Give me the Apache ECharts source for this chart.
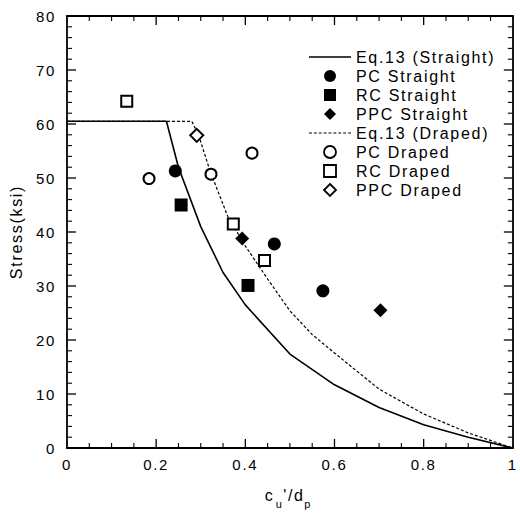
<!DOCTYPE html>
<html><head><meta charset="utf-8">
<script src="https://cdn.jsdelivr.net/npm/echarts@6/dist/echarts.min.js"></script>
<style>html,body{margin:0;padding:0;background:#fff}#c{width:520px;height:514px}#c text{letter-spacing:1.7px}</style>
</head><body><div id="c"></div>
<script>
// Eq.13 curves [c/dp, stress]
const eqStraight = [[0,60.5],[0.223,60.5],[0.25,52],[0.3,41],[0.35,32.5],[0.4,26.5],[0.5,17.4],[0.6,11.7],[0.7,7.5],[0.8,4.3],[0.9,2.0],[1.0,0]];
const eqDraped = [[0,60.5],[0.28,60.5],[0.295,58],[0.32,51.5],[0.36,43],[0.4,37.4],[0.45,31.3],[0.5,25.4],[0.55,21],[0.6,17.6],[0.7,10.9],[0.8,6.3],[0.9,2.8],[1.0,0]];
// test data
const pcStraight = [[0.243,51.3],[0.465,37.8],[0.574,29.1]];
const rcStraight = [[0.256,45.0],[0.406,30.1]];
const ppcStraight = [[0.393,38.8],[0.703,25.5]];
const pcDraped = [[0.184,49.9],[0.323,50.7],[0.415,54.6]];
const rcDraped = [[0.134,64.2],[0.373,41.5],[0.443,34.7]];
const ppcDraped = [[0.291,57.9]];
const seriesNames = ['Eq.13 (Straight)','PC Straight','RC Straight','PPC Straight','Eq.13 (Draped)','PC Draped','RC Draped','PPC Draped'];
// axes: range, major interval, minor interval
const xRange = {min:0, max:1, interval:0.2, minor:0.05};
const yRange = {min:0, max:80, interval:10, minor:2};

const FONT = 'Liberation Sans';
const MAJ = 9, MIN = 5;
const chart = echarts.init(document.getElementById('c'), null, {renderer:'svg'});

// inward tick marks on all four sides of the frame, placed through the axis scales
const tickData = [];
function addTicks(kind, r){
  const n = Math.round((r.max - r.min) / r.minor);
  for (let i = 1; i < n; i++) {
    const v = r.min + i * r.minor;
    const q = v / r.interval;
    tickData.push([kind, v, Math.abs(q - Math.round(q)) < 1e-6 ? 1 : 0]);
  }
}
addTicks(0, xRange); addTicks(1, yRange);
function renderTick(params, api){
  const kind = api.value(0), v = api.value(1), len = api.value(2) ? MAJ : MIN;
  const st = {stroke:'#000', lineWidth: api.value(2) ? 1.3 : 1.1};
  let a, b, s1, s2;
  if (kind === 0) {
    a = api.coord([v, yRange.min]); b = api.coord([v, yRange.max]);
    s1 = {x1:a[0], y1:a[1], x2:a[0], y2:a[1] - len};
    s2 = {x1:b[0], y1:b[1], x2:b[0], y2:b[1] + len};
  } else {
    a = api.coord([xRange.min, v]); b = api.coord([xRange.max, v]);
    s1 = {x1:a[0], y1:a[1], x2:a[0] + len, y2:a[1]};
    s2 = {x1:b[0], y1:b[1], x2:b[0] - len, y2:b[1]};
  }
  return {type:'group', children:[
    {type:'line', shape:s1, style:st}, {type:'line', shape:s2, style:st}]};
}
function mainAxis(range, position, extra){
  return Object.assign({type:'value', position, min:range.min, max:range.max, interval:range.interval,
    axisLine:{show:true, onZero:false, lineStyle:{color:'#000', width:1.8}},
    axisTick:{show:false}, minorTick:{show:false}, splitLine:{show:false}, minorSplitLine:{show:false},
    axisLabel:{show:false}}, extra || {});
}
function scatter(name, data, symbol, size){
  const empty = symbol.startsWith('empty');
  return {name, type:'scatter', data, symbol, symbolSize:size,
    itemStyle:{color:'#000', borderColor:'#000', borderWidth: empty?1.8:0, opacity:1}, z:5};
}
// legend icon paths
let dashPath = 'path://';
for (let x = 0; x < 42; x += 5) dashPath += 'M' + x + ',0h3v1.1h-3z';
const icons = {
  line: 'path://M0,0h42v1.6h-42z',
  dash: dashPath,
  circle: 'path://M6,0A6,6,0,1,1,6,12A6,6,0,1,1,6,0Z',
  rect: 'path://M0,0h12v12h-12z',
  diamond: 'path://M6,0L12,6L6,12L0,6Z'
};
const filled = {color:'#000', borderWidth:0, opacity:1};
const hollow = {color:'#fff', borderColor:'#000', borderWidth:1.8, opacity:1};
chart.setOption({
  animation:false,
  backgroundColor:'#fff',
  textStyle:{fontFamily:FONT, color:'#000'},
  grid:{left:65, right:4, top:16, bottom:58},
  legend:{
    orient:'vertical', left:304, top:44, itemWidth:42, itemHeight:12, itemGap:3,
    symbolKeepAspect:true,
    data:[
      {name:seriesNames[0], icon:icons.line, itemStyle:filled},
      {name:seriesNames[1], icon:icons.circle, itemStyle:filled},
      {name:seriesNames[2], icon:icons.rect, itemStyle:filled},
      {name:seriesNames[3], icon:icons.diamond, itemStyle:filled},
      {name:seriesNames[4], icon:icons.dash, itemStyle:filled},
      {name:seriesNames[5], icon:icons.circle, itemStyle:hollow},
      {name:seriesNames[6], icon:icons.rect, itemStyle:hollow},
      {name:seriesNames[7], icon:icons.diamond, itemStyle:hollow}
    ],
    textStyle:{fontFamily:FONT, fontSize:16, color:'#000'}
  },
  xAxis:[
    mainAxis(xRange, 'bottom', {
      axisLabel:{show:true, fontFamily:FONT, fontSize:15, color:'#000', margin:9},
      name:'{a|c}{s|u}{a|\'/d}{s|p}', nameLocation:'middle', nameGap:34, nameMoveOverlap:false,
      nameTextStyle:{rich:{a:{fontFamily:FONT, fontSize:16, color:'#000', padding:[0,2,0,0]}, s:{fontFamily:FONT, fontSize:11, color:'#000', padding:[16,3,0,1]}}}}),
    mainAxis(xRange, 'top')
  ],
  yAxis:[
    mainAxis(yRange, 'left', {
      axisLabel:{show:true, fontFamily:FONT, fontSize:15, color:'#000', margin:11},
      name:'Stress(ksi)', nameLocation:'middle', nameGap:43, nameRotate:90, nameMoveOverlap:false,
      nameTextStyle:{fontFamily:FONT, fontSize:16, color:'#000'}}),
    mainAxis(yRange, 'right')
  ],
  series:[
    {type:'custom', name:'ticks', data:tickData, renderItem:renderTick, silent:true, clip:false, z:1,
     xAxisIndex:0, yAxisIndex:0, encode:{x:0, y:1}},
    {name:seriesNames[0], type:'line', data:eqStraight, symbol:'none', lineStyle:{color:'#000', width:1.6}, itemStyle:{color:'#000'}, z:2},
    scatter(seriesNames[1], pcStraight, 'circle', 13),
    scatter(seriesNames[2], rcStraight, 'rect', 13),
    scatter(seriesNames[3], ppcStraight, 'diamond', 14),
    {name:seriesNames[4], type:'line', data:eqDraped, symbol:'none', lineStyle:{color:'#000', width:1.2, type:[3,2]}, itemStyle:{color:'#000'}, z:2},
    scatter(seriesNames[5], pcDraped, 'emptyCircle', 11),
    scatter(seriesNames[6], rcDraped, 'emptyRect', 11),
    scatter(seriesNames[7], ppcDraped, 'emptyDiamond', 13)
  ]
});
</script></body></html>
